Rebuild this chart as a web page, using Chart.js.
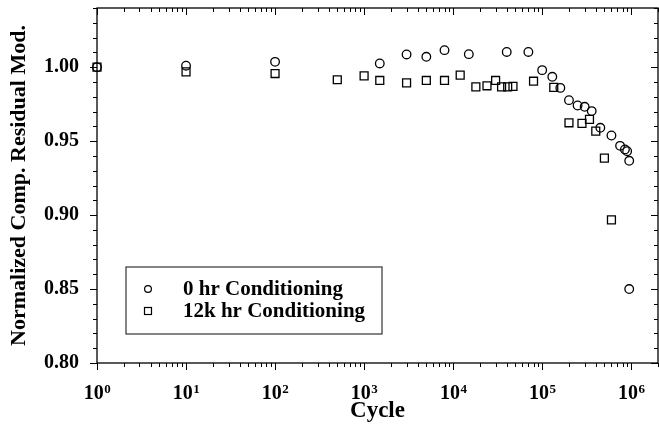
<!DOCTYPE html>
<html lang="en">
<head>
    <meta charset="UTF-8">
    <title>Normalized Comp. Residual Mod.</title>
    <script src="https://cdn.jsdelivr.net/npm/chart.js"></script>
    <style>
        html, body { margin: 0; padding: 0; background: #fff; }
        .chart-container { position: relative; width: 659px; height: 429px; }
    </style>
</head>
<body>
    <div class="chart-container">
        <canvas id="myChart" width="659" height="429"></canvas>
    </div>
    <script>
        // data
        const cycles0 = [1, 10, 100, 1500, 3000, 5000, 8000, 15000, 40000, 70000, 100000, 130000, 160000, 200000,
            250000, 300000, 360000, 450000, 600000, 750000, 850000, 900000, 950000, 950000];
        const mod0 = [1.000, 1.001, 1.0036, 1.0025, 1.0086, 1.007, 1.0115, 1.0088, 1.0103, 1.0103, 0.998, 0.9935, 0.986, 0.9777,
            0.9741, 0.9732, 0.9703, 0.959, 0.9538, 0.9468, 0.9444, 0.9432, 0.9367, 0.850];

        const cycles12 = [1, 10, 100, 500, 1000, 1500, 3000, 5000, 8000, 12000, 18000, 24000, 30000, 35000,
            41000, 47000, 80000, 135000, 200000, 280000, 340000, 400000, 500000, 600000];
        const mod12 = [1.000, 0.9968, 0.9957, 0.9915, 0.9941, 0.991, 0.9894, 0.991, 0.991, 0.9946, 0.9867, 0.9874, 0.991, 0.9867,
            0.9867, 0.987, 0.9905, 0.9863, 0.9624, 0.962, 0.9647, 0.9568, 0.9385, 0.8968];

        const seriesNames = ['0 hr Conditioning', '12k hr Conditioning'];
        const xMin = 1, xMax = 2e6;
        const yMin = 0.80, yMax = 1.04;

        const FONT = '"Liberation Serif", "Times New Roman", serif';

        function toPoints(xs, ys) {
            return xs.map((x, i) => ({ x: x, y: ys[i] }));
        }

        function isDecade(v) {
            const e = Math.log10(v);
            return Math.abs(e - Math.round(e)) < 1e-9;
        }

        // no extra padding from the scales, so the plot box sits where the original one does
        function noPad(scale) {
            scale.paddingLeft = 0;
            scale.paddingRight = 0;
            scale.paddingTop = 0;
            scale.paddingBottom = 0;
        }

        // frame, tick marks on all four sides, 10^n labels and the legend box
        const frame = {
            id: 'frame',
            afterDatasetsDraw(chart) {
                const ctx = chart.ctx;
                const a = chart.chartArea;
                const xs = chart.scales.x, ys = chart.scales.y;
                ctx.save();
                ctx.strokeStyle = '#000';
                ctx.lineWidth = 1.3;
                ctx.strokeRect(a.left, a.top, a.right - a.left, a.bottom - a.top);
                ctx.lineWidth = 1;
                ctx.beginPath();
                xs.ticks.forEach(t => {
                    const px = Math.round(xs.getPixelForValue(t.value)) + 0.5;
                    const len = isDecade(t.value) ? 7 : 4;
                    ctx.moveTo(px, a.bottom); ctx.lineTo(px, a.bottom + len);
                    ctx.moveTo(px, a.top); ctx.lineTo(px, a.top + len);
                });
                ys.ticks.forEach(t => {
                    const py = Math.round(ys.getPixelForValue(t.value)) + 0.5;
                    const len = Math.round(t.value * 100) % 5 === 0 ? 7 : 4;
                    ctx.moveTo(a.left, py); ctx.lineTo(a.left - len, py);
                    ctx.moveTo(a.right, py); ctx.lineTo(a.right - len, py);
                });
                ctx.stroke();

                // x tick labels as 10 with a raised exponent
                ctx.fillStyle = '#000';
                ctx.textBaseline = 'alphabetic';
                ctx.textAlign = 'left';
                xs.ticks.forEach(t => {
                    if (!isDecade(t.value)) return;
                    const e = String(Math.round(Math.log10(t.value)));
                    ctx.font = 'bold 20px ' + FONT;
                    const w1 = ctx.measureText('10').width;
                    ctx.font = 'bold 13px ' + FONT;
                    const w2 = ctx.measureText(e).width;
                    const x0 = xs.getPixelForValue(t.value) - (w1 + w2) / 2;
                    ctx.font = 'bold 20px ' + FONT;
                    ctx.fillText('10', x0, 399);
                    ctx.font = 'bold 13px ' + FONT;
                    ctx.fillText(e, x0 + w1 + 0.5, 393);
                });

                // legend box
                const bx = 126, by = 267, bw = 256, bh = 67;
                ctx.strokeStyle = '#333';
                ctx.lineWidth = 1.2;
                ctx.strokeRect(bx, by, bw, bh);
                ctx.strokeStyle = '#000';
                ctx.beginPath();
                ctx.arc(148, 289, 3.4, 0, Math.PI * 2);
                ctx.stroke();
                ctx.strokeRect(144.5, 307.5, 7, 7);
                ctx.font = 'bold 21px ' + FONT;
                ctx.textBaseline = 'middle';
                ctx.fillText(seriesNames[0], 183, 290);
                ctx.fillText(seriesNames[1], 183, 312);
                ctx.restore();
            }
        };

        const ctx = document.getElementById('myChart').getContext('2d');
        new Chart(ctx, {
            type: 'scatter',
            plugins: [frame],
            data: {
                datasets: [{
                    label: seriesNames[0],
                    data: toPoints(cycles0, mod0),
                    pointStyle: 'circle',
                    pointRadius: 4.3,
                    pointBorderWidth: 1.3,
                    borderColor: '#000',
                    backgroundColor: 'rgba(0,0,0,0)',
                    clip: false
                }, {
                    label: seriesNames[1],
                    data: toPoints(cycles12, mod12),
                    pointStyle: 'rect',
                    pointRadius: 5.6,
                    pointBorderWidth: 1.3,
                    borderColor: '#000',
                    backgroundColor: 'rgba(0,0,0,0)',
                    clip: false
                }]
            },
            options: {
                responsive: false,
                animation: false,
                layout: { autoPadding: false, padding: { top: 8, right: 1, left: 0, bottom: 0 } },
                plugins: {
                    legend: { display: false },
                    tooltip: { enabled: false }
                },
                scales: {
                    x: {
                        type: 'logarithmic',
                        min: xMin,
                        max: xMax,
                        afterBuildTicks: scale => {
                            const t = [];
                            for (let d = 0; d <= 6; d++) {
                                for (let m = 1; m <= 9; m++) {
                                    const v = m * Math.pow(10, d);
                                    if (v <= xMax) t.push({ value: v });
                                }
                            }
                            scale.ticks = t;
                        },
                        afterFit: scale => { scale.height = 66; noPad(scale); },
                        grid: { display: false, drawTicks: false },
                        border: { display: false },
                        ticks: { display: false },
                        title: {
                            display: true,
                            text: 'Cycle',
                            color: '#000',
                            font: { family: FONT, size: 23, weight: 'bold' },
                            padding: { top: 0, bottom: 4 }
                        }
                    },
                    y: {
                        min: yMin,
                        max: yMax,
                        afterFit: scale => { scale.width = 97; noPad(scale); },
                        grid: { display: false, drawTicks: false },
                        border: { display: false },
                        ticks: {
                            stepSize: 0.01,
                            autoSkip: false,
                            padding: 18,
                            color: '#000',
                            font: { family: FONT, size: 20, weight: 'bold' },
                            callback: v => (Math.round(v * 100) % 5 === 0 ? v.toFixed(2) : '')
                        },
                        title: {
                            display: true,
                            text: 'Normalized Comp. Residual Mod.',
                            color: '#000',
                            font: { family: FONT, size: 22, weight: 'bold' },
                            padding: { top: 6, bottom: 0 }
                        }
                    }
                }
            }
        });
    </script>
</body>
</html>
